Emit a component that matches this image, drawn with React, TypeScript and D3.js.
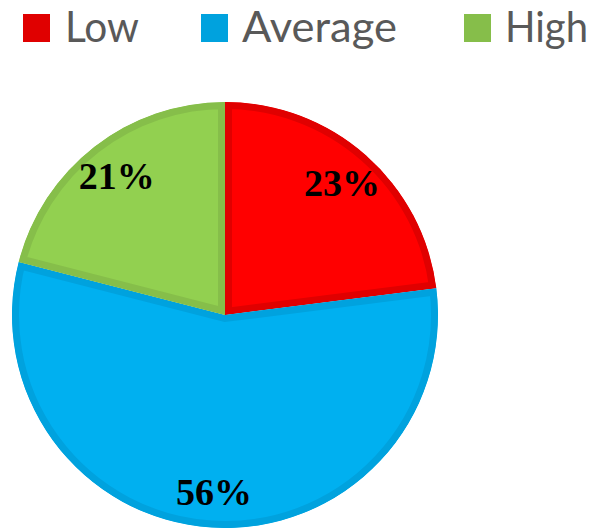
import * as d3 from "d3";
import React from "react";

const categories = ["Low", "Average", "High"];
const values = [23, 56, 21];
const labels = ["23%", "56%", "21%"];
const fills = ["#FF0000", "#00B0F0", "#92D050"];
const borders = ["#E00000", "#00A2DE", "#86BE4A"];

const W = 593;
const H = 529;
const cx = 225;
const cy = 315;
const R = 213;

// legend layout (square x, text x, text width)
const legendSq = [23, 201, 464];
const legendTx = [65, 242, 505];
const legendW = [74, 155, 83];

const App = () => {
  const pie = d3.pie<number>().sort(null).startAngle(0).endAngle(2 * Math.PI);
  const arcs = pie(values);
  const arc = d3.arc<d3.PieArcDatum<number>>().innerRadius(0).outerRadius(R);
  const labelArc = d3
    .arc<d3.PieArcDatum<number>>()
    .innerRadius(R * 0.83)
    .outerRadius(R * 0.83);

  return (
    <svg width={W} height={H} style={{ position: "absolute", left: 0, top: 0 }}>
      <defs>
        {arcs.map((a, i) => (
          <clipPath id={"clip" + i} key={i}>
            <path d={arc(a) || ""} />
          </clipPath>
        ))}
      </defs>
      <g transform={`translate(${cx},${cy})`}>
        {arcs.map((a, i) => (
          <path
            key={i}
            d={arc(a) || ""}
            fill={fills[i]}
            stroke={borders[i]}
            strokeWidth={14}
            clipPath={`url(#clip${i})`}
          />
        ))}
        {arcs.map((a, i) => {
          const [x, y] = labelArc.centroid(a);
          return (
            <text
              key={i}
              x={x}
              y={y}
              dy="0.35em"
              textAnchor="middle"
              fontFamily="'Liberation Serif', 'Times New Roman', serif"
              fontWeight="bold"
              fontSize={38}
              fill="#000"
            >
              {labels[i]}
            </text>
          );
        })}
      </g>
      <g>
        {categories.map((c, i) => (
          <g key={c}>
            <rect x={legendSq[i]} y={14} width={27} height={28} fill={borders[i]} />
            <text
              x={legendTx[i]}
              y={42}
              fontFamily="Lato, 'Open Sans', sans-serif"
              fontSize={42}
              fill="#595959"
              textLength={legendW[i]}
              lengthAdjust="spacingAndGlyphs"
            >
              {c}
            </text>
          </g>
        ))}
      </g>
    </svg>
  );
};

export default App;
